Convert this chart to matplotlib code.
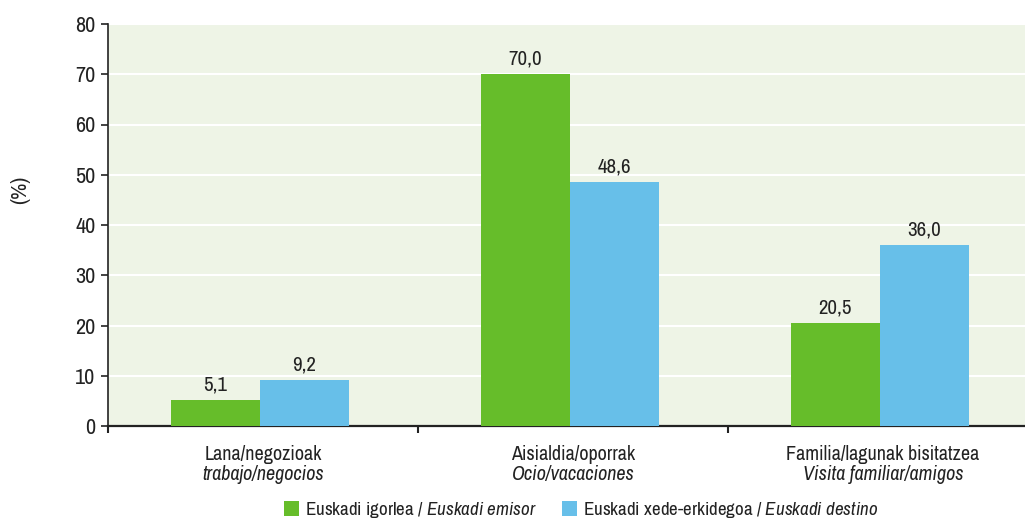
import matplotlib.pyplot as plt
import matplotlib.font_manager as fm
import numpy as np

# データ
categories_eu = ["Lana/negozioak", "Aisialdia/oporrak", "Familia/lagunak bisitatzea"]
categories_es = ["trabajo/negocios", "Ocio/vacaciones", "Visita familiar/amigos"]
emisor = [5.1, 70.0, 20.5]
destino = [9.2, 48.6, 36.0]
yticks = [0, 10, 20, 30, 40, 50, 60, 70, 80]

# 細めのフォントを探す
names = sorted({f.name for f in fm.fontManager.ttflist})
narrow = [n for n in names if "Narrow" in n or "Condensed" in n]
font = narrow[0] if narrow else ("Roboto" if "Roboto" in names else "DejaVu Sans")
plt.rcParams["font.family"] = [font, "DejaVu Sans"]
plt.rcParams["mathtext.fontset"] = "custom"
plt.rcParams["mathtext.rm"] = font
plt.rcParams["mathtext.it"] = font + ":italic"

green = "#66bd2a"
blue = "#67bfe9"
txt = "#222222"

fig = plt.figure(figsize=(10.25, 5.21), dpi=100)
ax = fig.add_axes([108 / 1025, 95 / 521, 930 / 1025, 402 / 521])
ax.set_facecolor("#eef4e6")

x = np.arange(len(emisor))
w = 0.287
b1 = ax.bar(x - w / 2 - 0.01, emisor, w, color=green, label="Euskadi igorlea / $\\it{Euskadi\\ emisor}$", zorder=3)
b2 = ax.bar(x + w / 2 - 0.01, destino, w, color=blue, label="Euskadi xede-erkidegoa / $\\it{Euskadi\\ destino}$", zorder=3)

for bars, vals in [(b1, emisor), (b2, destino)]:
    for r, v in zip(bars, vals):
        ax.annotate(f"{v:.1f}".replace(".", ","), (r.get_x() + r.get_width() / 2, v),
                    xytext=(0, 4), textcoords="offset points", ha="center", va="bottom",
                    fontsize=15, color=txt)

ax.set_xlim(-0.5, 2.5)
ax.set_ylim(0, 80)
ax.set_yticks(yticks)
ax.tick_params(axis="y", labelsize=16, colors=txt, length=5, width=1.2, pad=4)
ax.set_xticks([-0.5, 0.5, 1.5, 2.5])
ax.set_xticklabels([])
ax.tick_params(axis="x", length=5, width=1.5, colors=txt)
ax.yaxis.grid(True, color="white", linewidth=1.5, zorder=1)
ax.set_axisbelow(True)

for s in ["top", "right"]:
    ax.spines[s].set_visible(False)
ax.spines["left"].set_linewidth(1.2)
ax.spines["bottom"].set_linewidth(1.6)
ax.spines["left"].set_color(txt)
ax.spines["bottom"].set_color(txt)

# カテゴリラベル
tr = ax.get_xaxis_transform()
for i in x:
    ax.text(i, -0.07, categories_eu[i], transform=tr, ha="center", va="center",
            fontsize=14.5, color=txt)
    ax.text(i, -0.12, categories_es[i], transform=tr, ha="center", va="center",
            fontsize=14.5, color=txt, style="italic")

fig.text(20 / 1025, 1 - 190 / 521, "(%)", rotation=90, ha="center", va="center",
         fontsize=16, color=txt)

fig.legend(loc="center", bbox_to_anchor=(581 / 1025, 1 - 510 / 521), ncol=2, frameon=False,
           fontsize=13.7, handlelength=0.8, handleheight=0.8, handletextpad=0.3,
           columnspacing=1.3, labelcolor=txt, borderpad=0.1)

fig.savefig("out.png", dpi=100)
